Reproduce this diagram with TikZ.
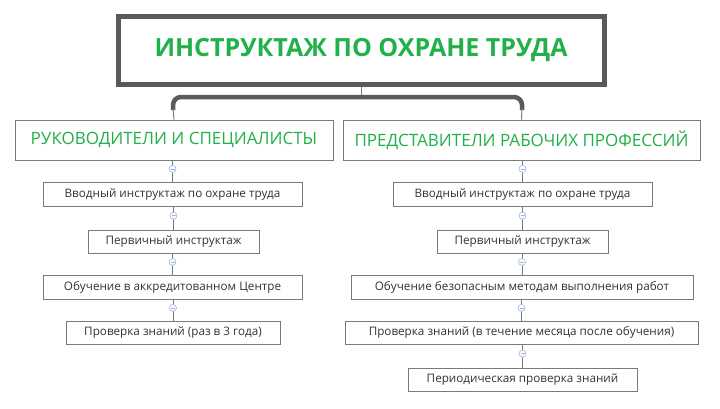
\documentclass[tikz,border=0pt]{standalone}
\usepackage{fontspec}
\usetikzlibrary{calc}
\setmainfont{Open Sans}
\definecolor{tgreen}{HTML}{22B04B}
\definecolor{bgray}{HTML}{5A5A5A}
\definecolor{lgray}{HTML}{7A7A7A}
\definecolor{cblue}{HTML}{9DB3E0}
\begin{document}
\begin{tikzpicture}[x=1pt,y=-1pt,
  leaf/.style={draw=lgray,line width=0.8pt,fill=white,inner sep=0pt,font=\fontsize{11.7}{14}\selectfont,text=black!80},
  cat/.style={draw=lgray,line width=0.8pt,fill=white,inner sep=0pt,font=\fontsize{17}{20}\selectfont,text=tgreen},
  tog/.style={circle,draw=cblue,fill=white,line width=0.6pt,minimum size=7pt,inner sep=0pt},
  link/.style={draw=lgray,line width=1pt}]
\useasboundingbox (0,0) rectangle (720,408);
\node[draw=bgray,line width=5pt,fill=white,minimum width=486pt,minimum height=68pt,text=tgreen,font=\fontsize{25}{30}\selectfont\bfseries] (title) at (361,50) {ИНСТРУКТАЖ ПО ОХРАНЕ ТРУДА};
\node[cat,minimum width=318pt,minimum height=40pt] (L) at (174,140) {РУКОВОДИТЕЛИ И СПЕЦИАЛИСТЫ};
\node[cat,minimum width=357pt,minimum height=40pt] (R) at (521.5,140) {ПРЕДСТАВИТЕЛИ РАБОЧИХ ПРОФЕССИЙ};
\coordinate (j) at (361,97);
\draw[lgray,line width=1pt] (title.south) -- (j);
\draw[bgray,line width=4.5pt,rounded corners=8pt] (173,110) -- (173,97) -- (522,97) -- (522,110);
\draw[link] (173,108) -- (L.north);
\draw[link] (522,108) -- (R.north);
% left column
\node[leaf,minimum width=259pt,minimum height=24pt] (l1) at (172.5,194) {Вводный инструктаж по охране труда};
\node[leaf,minimum width=171pt,minimum height=23pt] (l2) at (173.5,241.5) {Первичный инструктаж};
\node[leaf,minimum width=259pt,minimum height=24pt] (l3) at (172.5,287) {Обучение в аккредитованном Центре};
\node[leaf,minimum width=214pt,minimum height=23pt] (l4) at (173,332.5) {Проверка знаний (раз в 3 года)};
% right column
\node[leaf,minimum width=259pt,minimum height=24pt] (r1) at (522.5,194) {Вводный инструктаж по охране труда};
\node[leaf,minimum width=171pt,minimum height=23pt] (r2) at (522.5,241.5) {Первичный инструктаж};
\node[leaf,minimum width=342pt,minimum height=24pt] (r3) at (522,287) {Обучение безопасным методам выполнения работ};
\node[leaf,minimum width=353pt,minimum height=23pt] (r4) at (521.5,332.5) {Проверка знаний (в течение месяца после обучения)};
\node[leaf,minimum width=229pt,minimum height=23pt] (r5) at (522.5,379.5) {Периодическая проверка знаний};
\foreach \a/\b in {L/l1,l1/l2,l2/l3,l3/l4,R/r1,r1/r2,r2/r3,r3/r4,r4/r5}{
  \draw[link] (\a.south -| \b.north) -- (\b.north);
  \node[tog] (t\b) at ($(\a.south -| \b.north)!0.4!(\b.north)$) {};
  \draw[cblue,line width=0.6pt] ([xshift=-2pt]t\b.center) -- ([xshift=2pt]t\b.center);
}
\end{tikzpicture}
\end{document}
